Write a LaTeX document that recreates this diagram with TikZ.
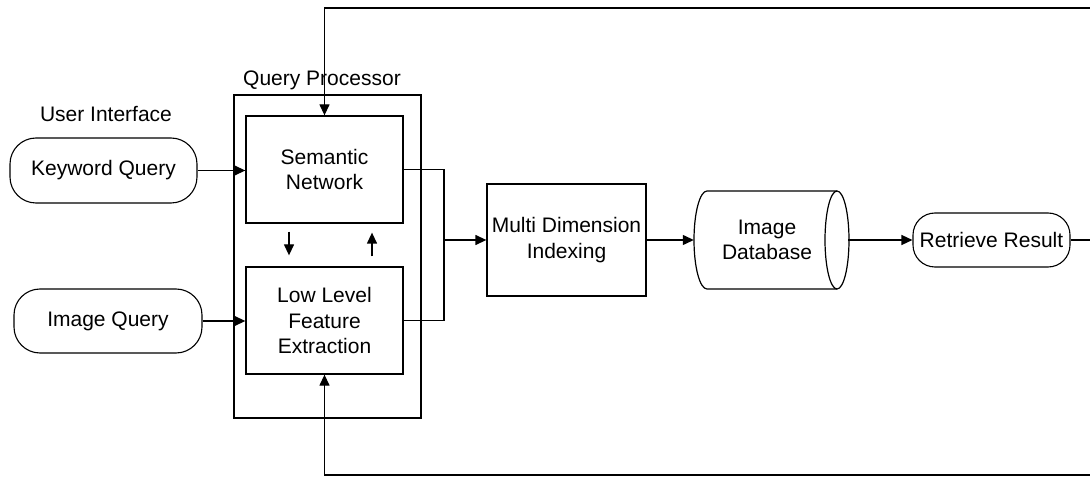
\documentclass[tikz,border=0pt]{standalone}
\usepackage{fontspec}
\setmainfont{Liberation Sans}
\usetikzlibrary{arrows.meta}
\begin{document}
\begin{tikzpicture}[x=1pt,y=1pt,
  every node/.style={font=\fontsize{21}{25.5}\selectfont, align=center, inner sep=0pt},
  box/.style={draw, line width=1.3pt, minimum width=157pt, minimum height=107pt},
  term/.style={draw, line width=1.1pt, rounded corners=26pt},
  conn/.style={line width=1.3pt},
  arr/.style={conn, -{Triangle[length=11pt,width=10pt]}}
]
\useasboundingbox (0,0) rectangle (1090,477);
% containers and labels
\node[draw, line width=1.3pt, minimum width=187pt, minimum height=323pt] (qp) at (327.5,220.5) {};
\node (qpl) at (322,397) {Query Processor};
\node (uil) at (106,363) {User Interface};
% nodes
\node[box] (sem) at (324.5,307.5) {Semantic\\Network};
\node[box] (low) at (324.5,156.5) {Low Level\\Feature\\Extraction};
\node[term, minimum width=187pt, minimum height=65pt] (kw) at (103.5,306.5) {Keyword Query};
\node[term, minimum width=188pt, minimum height=64pt] (iq) at (108,156) {Image Query};
\node[box, minimum width=159pt, minimum height=112pt] (md) at (566.5,237) {Multi Dimension\\Indexing};
\node[minimum width=154pt, minimum height=98pt] (db) at (771,237) {};
\node (dbl) at (767,237) {Image\\Database};
\node[term, rounded corners=22pt, minimum width=157pt, minimum height=54pt] (ret) at (991.5,237) {Retrieve Result};
% cylinder outline
\draw[line width=1.2pt] (837,237) ellipse[x radius=12, y radius=49];
\draw[line width=1.2pt] (837,286) -- (707,286) arc[start angle=90, end angle=270, x radius=13, y radius=49] -- (837,188);
% connectors
\draw[arr] (kw.east) -- (kw.east -| sem.west);
\draw[arr] (iq.east) -- (iq.east -| low.west);
\draw[arr] ([xshift=-35.5pt,yshift=-8pt]sem.south) -- ([xshift=-35.5pt,yshift=11pt]low.north);
\draw[arr] ([xshift=47.5pt,yshift=10pt]low.north) -- ([xshift=47.5pt,yshift=-9pt]sem.south);
\coordinate (j) at (444,237);
\draw[conn] (sem.east) -- (sem.east -| j) -- (low.east -| j) -- (low.east);
\draw[arr] (j) -- (md.west);
\draw[arr] (md.east) -- (db.west);
\draw[arr] (db.east) -- (ret.west);
\coordinate (e) at (1090,237);
\coordinate (tr) at (1090,469);
\coordinate (br) at (1090,2);
\draw[conn] (ret.east) -- (e);
\draw[arr] (tr) -| (sem.north);
\draw[arr] (br) -| (low.south);
\end{tikzpicture}
\end{document}
